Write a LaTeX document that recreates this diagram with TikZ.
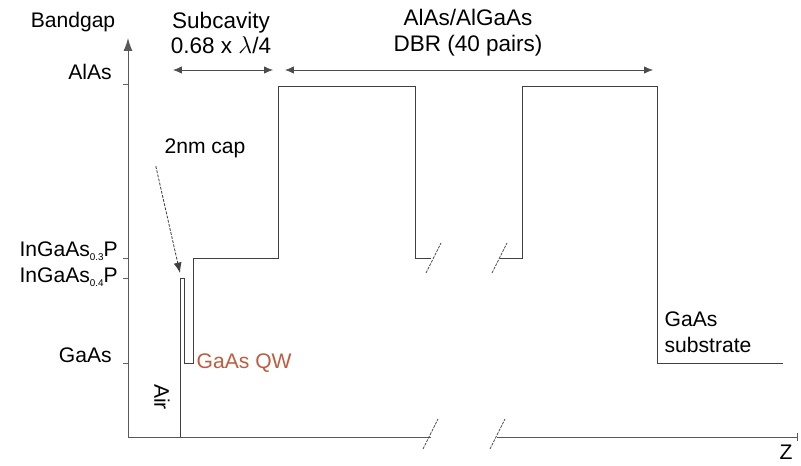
\documentclass[tikz,border=0pt]{standalone}
\usepackage{fontspec}
\setmainfont{Liberation Sans}
\usetikzlibrary{arrows.meta,positioning,calc}
\definecolor{qwred}{RGB}{190,92,62}

\begin{document}
\begin{tikzpicture}[
  x=0.025cm, y=-0.025cm,
  font=\fontsize{15}{18.4}\selectfont,
  every node/.style={inner sep=1pt},
  axis/.style={draw=black!65, line width=0.7pt},
  band/.style={draw=black!75, line width=0.7pt},
  tk/.style={draw=black!60, line width=0.6pt},
  brk/.style={draw=black!70, line width=0.5pt, dash pattern=on 2pt off 0.8pt},
  dim/.style={{Latex[length=2.2mm,width=1.8mm]}-{Latex[length=2.2mm,width=1.8mm]},
              black!70, line width=0.5pt},
  capar/.style={-{Latex[length=2.6mm,width=2mm]}, black!75, line width=0.6pt,
                dash pattern=on 2pt off 1pt},
  lvl/.style={anchor=east, inner sep=0pt},
  head/.style={align=center, font=\fontsize{16}{18.4}\selectfont},
]
\useasboundingbox (0,0) rectangle (801,466);

% ---------------------------------------------------------------- axes
\coordinate (o) at (128,437);
\coordinate (ytop) at (128,38);
\coordinate (xa) at (431,437);
\coordinate (xb) at (497,437);
\coordinate (xend) at (797,437);
\draw[axis, -{Latex[length=3.2mm,width=2.2mm]}] (o) -- (ytop);
\draw[axis] (o) -- (xa);
\draw[axis] (xb) -- (xend);
\draw[axis] ($(xend)+(0,-4)$) -- ($(xend)+(0,4)$);

% level ticks
\foreach \yy in {84,258,278,363}
  \draw[tk] (123,\yy) -- (128,\yy);

\node[lvl] (lalas) at (112,72) {AlAs};
\node[lvl] (lq3) at (118,251) {InGaAs{\fontsize{7}{8}\selectfont\raisebox{-2.5pt}{0.3}}P};
\node[lvl] (lq4) at (118,277) {InGaAs{\fontsize{7}{8}\selectfont\raisebox{-2.5pt}{0.4}}P};
\node[lvl] (lgaas) at (112,355) {GaAs};

\node (bandgap) at (73,22) {Bandgap};
\node (z) at (786,452) {Z};

% ---------------------------------------------------------------- band profile
\draw[band] (180,437) -- (180,278) -- (184,278) -- (184,363) -- (193,363)
  -- (193,258) -- (278,258) -- (278,86) -- (415,86) -- (415,258) -- (431,258);
\draw[band] (500,258) -- (522,258) -- (522,86) -- (657,86) -- (657,363) -- (783,363);

% breaks
\foreach \xx/\yy in {426/273, 492/273, 423/449, 490/449}
  \draw[brk] (\xx,\yy) -- ++(15,-30);

% ---------------------------------------------------------------- labels
\node[head] (subcav) at (221,33) {Subcavity\\0.68 x $\lambda$/4};
\node[head] (dbr) at (468,33) {AlAs/AlGaAs\\DBR (40 pairs)};

\coordinate (s1) at (173,70);
\coordinate (s2) at (273,70);
\coordinate (d1) at (285,70);
\coordinate (d2) at (653,70);
\draw[dim] (s1) -- (s2);
\draw[dim] (d1) -- (d2);

\node (cap) at (205,148) {2nm cap};
\coordinate (captop) at (180,273);
\draw[capar] ([xshift=-5pt,yshift=-5pt]cap.south west) -- (captop);

\node[anchor=west, text=qwred] (qw) at (195,363) {GaAs QW};
\node[rotate=-90] (air) at (162,397) {Air};
\node[anchor=west, align=left] (sub) at (663,332) {GaAs\\substrate};

\end{tikzpicture}
\end{document}
